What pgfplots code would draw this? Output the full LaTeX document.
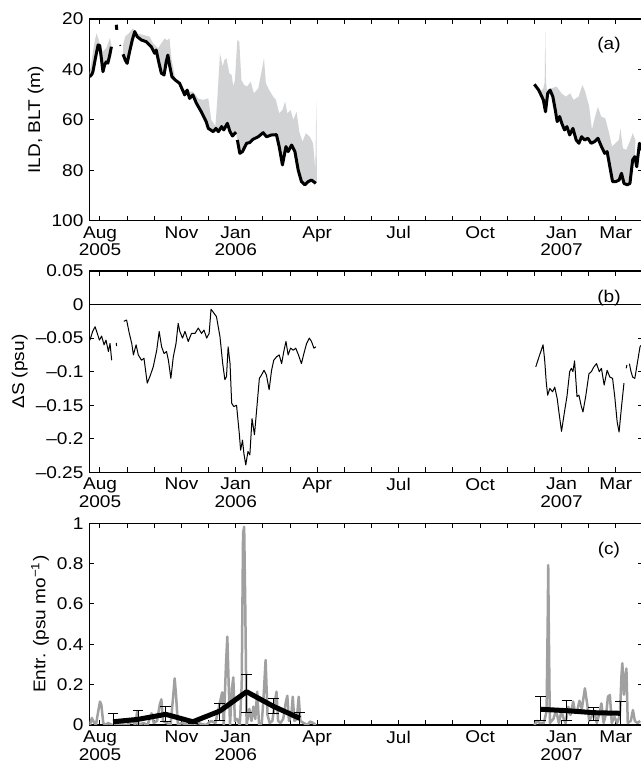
\documentclass[border=0pt]{standalone}
\usepackage{fontspec}
\setmainfont{Liberation Sans}[FakeStretch=1.12]
\usepackage{pgfplots}
\pgfplotsset{compat=1.18}
\definecolor{fillgray}{RGB}{210,211,213}
\definecolor{linegray}{RGB}{160,160,160}
\pgfplotsset{
  panel/.style={
    anchor=south west,
    width=332.2pt, height=121pt, scale only axis,
    xmin=-0.394, xmax=20,
    xtick={0,3,5,8,11,14,17,19},
    xticklabels={{Aug\\2005},Nov,{Jan\\2006},Apr,Jul,Oct,{Jan\\2007},Mar},
    minor xtick={1,2,4,6,7,9,10,12,13,15,16,18,20},
    major tick length=3pt, minor tick length=3pt,
    tick style={black, line width=0.6pt},
    axis line style={line width=0.8pt},
    tick label style={font=\fontsize{10.2}{10.6}\selectfont},
    label style={font=\fontsize{10.2}{10.6}\selectfont},
    ylabel style={yshift=-2pt},
    xticklabel style={align=center},
    /pgf/number format/assume math mode=true,
    clip=true,
  }
}
\begin{document}
\begin{tikzpicture}
\useasboundingbox (0,0) rectangle (384pt,460.2pt);
% ---------------- (a)
\begin{axis}[panel, at={(53.58pt,327.8pt)},
  ymin=20, ymax=100, y dir=reverse,
  ytick={20,40,60,80,100},
  ylabel={ILD, BLT (m)}]
\addplot[fill=fillgray, draw=none] coordinates {
(-0.38,41.5)(-0.22,30.3)(-0.13,25.7)(-0.05,28)(0.02,31)(0.1,33)(0.23,31.6)(0.36,27.7)(0.42,30)
(0.42,31)(0.36,34.3)(0.29,37.5)(0.23,37)(0.17,38.2)(0.11,40.9)(0.05,35.6)(-0.01,30.5)(-0.07,30.3)(-0.17,35.6)(-0.26,40.9)(-0.3,42)(-0.38,42.9)} -- cycle;
\addplot[fill=fillgray, draw=none] coordinates {
(0.85,30.3)(0.93,27)(1.06,25.7)(1.21,23.7)(1.34,25.7)(1.58,26.3)(1.83,27)(1.95,29.6)(2.14,31.6)(2.38,27.7)(2.47,28.5)(2.56,27.7)(2.63,35.6)(2.77,43.5)(3.0,47.5)(3.24,48.8)(3.42,48.8)(3.61,51.5)(3.79,52.1)(3.99,51.5)(4.1,60)(4.25,62.5)(4.32,52.1)(4.42,33.6)(4.52,38.9)(4.58,36.3)(4.66,35.6)(4.76,41.5)(4.85,42.2)(4.91,46.8)(4.97,44.2)(5.06,28.3)(5.13,29)(5.21,44.2)(5.31,46.2)(5.42,46.8)(5.55,44.9)(5.67,49.5)(5.83,47.5)(5.95,40.9)(6.04,35.6)(6.11,45.5)(6.23,48.2)(6.38,50.8)(6.48,52.1)(6.6,57.4)(6.72,56.1)(6.82,52.8)(6.9,57.4)(7.02,56.1)(7.12,60)(7.24,56.8)(7.34,64.7)(7.46,68.7)(7.58,65.3)(7.73,66.7)(7.85,69.3)(7.93,79.9)(7.97,52.1)(7.99,85.2)
(7.95,85.2)(7.79,83.9)(7.67,84.5)(7.55,85.8)(7.42,84.5)(7.3,79.9)(7.18,72.6)(7.06,70)(6.93,72.6)(6.85,70.6)(6.72,77.9)(6.6,70.6)(6.5,65.9)(6.32,66)(6.13,66.7)(6.01,65.1)(5.83,66.7)(5.64,67.7)(5.52,69)(5.4,69.3)(5.25,72.6)(5.15,73.3)(5.06,68)
(5.01,64.9)(4.88,66.4)(4.79,64.7)(4.69,61.4)(4.56,64)(4.48,62.7)(4.36,64.7)(4.27,63.4)(4.17,64.7)(3.99,63.4)(3.91,60.7)(3.73,56.8)(3.55,53.4)(3.42,50.1)(3.3,51.5)(3.21,48.2)(3.12,50.1)(2.93,45.5)(2.77,44.2)(2.65,42.9)(2.56,38.2)(2.5,34.3)(2.44,36.9)(2.36,42.2)(2.26,41.5)(2.16,36.9)(2.07,32.3)(2.01,33.6)(1.89,31)(1.7,29)(1.52,28.3)(1.37,27)(1.28,25)(1.19,28.3)(1.09,33)(1.0,37.6)(0.93,36.3)(0.85,34)} -- cycle;
\addplot[fill=fillgray, draw=none] coordinates {
(16.2,49)(16.33,47.5)(16.38,45)(16.4,25)(16.43,45)(16.46,48.2)(16.63,47.5)(16.82,46.8)(17.0,49.5)(17.16,50.8)(17.32,49.5)(17.44,52.1)(17.63,50.8)(17.77,46.2)(17.87,48.8)(18.02,54.8)(18.12,64)(18.22,59.4)(18.34,54.8)(18.46,58.7)(18.61,59.4)(18.74,64.7)(18.86,70.6)(18.98,69.3)(19.11,68)(19.17,63.4)(19.26,71.3)(19.38,71.9)(19.54,68)(19.62,65.3)(19.72,68)
(19.7,74.6)(19.62,75.9)(19.52,85.2)(19.42,85.8)(19.3,85.2)(19.21,81.2)(19.12,83.9)(19.0,84.5)(18.88,84.5)(18.78,78.6)(18.68,72.6)(18.59,73.3)(18.47,70.6)(18.34,67.3)(18.22,68.6)(18.09,69.3)(17.97,67.3)(17.85,68)(17.74,66.7)(17.64,69.3)(17.54,68)(17.42,63.4)(17.3,66)(17.2,62.7)(17.11,64)(17.01,61.4)(16.93,58.7)(16.84,60.7)(16.77,56.1)(16.68,50.8)(16.58,48.2)(16.49,49.5)(16.41,56.8)(16.33,52.1)(16.2,49)} -- cycle;
\addplot[black, line width=1.8pt, line join=round] coordinates {
(-0.38,42.9)(-0.3,42)(-0.26,40.9)(-0.17,35.6)(-0.07,30.3)(-0.01,30.5)(0.05,35.6)(0.11,40.9)(0.17,38.2)(0.23,37)(0.29,37.5)(0.36,34.3)(0.42,31)};
\addplot[black, line width=1.8pt] coordinates {(0.6,22.3)(0.62,24.3)};
\addplot[black, line width=1pt] coordinates {(0.74,30.3)(0.75,30.7)};
\addplot[black, line width=1.8pt, line join=round] coordinates {
(0.85,34)(0.93,36.3)(1.0,37.6)(1.09,33)(1.19,28.3)(1.28,25)(1.37,27)(1.52,28.3)(1.7,29)(1.89,31)(2.01,33.6)(2.07,32.3)(2.16,36.9)(2.26,41.5)(2.36,42.2)(2.44,36.9)(2.5,34.3)(2.56,38.2)(2.65,42.9)(2.77,44.2)(2.93,45.5)(3.12,50.1)(3.21,48.2)(3.3,51.5)(3.42,50.1)(3.55,53.4)(3.73,56.8)(3.91,60.7)(3.99,63.4)(4.17,64.7)(4.27,63.4)(4.36,64.7)(4.48,62.7)(4.56,64)(4.69,61.4)(4.79,64.7)(4.88,66.4)(5.01,64.9)};
\addplot[black, line width=1.8pt, line join=round] coordinates {
(5.06,68)(5.15,73.3)(5.25,72.6)(5.4,69.3)(5.52,69)(5.64,67.7)(5.83,66.7)(6.01,65.1)(6.13,66.7)(6.32,66)(6.5,65.9)(6.6,70.6)(6.72,77.9)(6.85,70.6)(6.93,72.6)(7.06,70)(7.18,72.6)(7.3,79.9)(7.42,84.5)(7.55,85.8)(7.67,84.5)(7.79,83.9)(7.95,85.2)};
\addplot[black, line width=1.8pt, line join=round] coordinates {
(16.0,45.9)(16.16,48.2)(16.33,52.1)(16.41,56.8)(16.49,49.5)(16.58,48.2)(16.68,50.8)(16.77,56.1)(16.84,60.7)(16.93,58.7)(17.01,61.4)(17.11,64)(17.2,62.7)(17.3,66)(17.42,63.4)(17.54,68)(17.64,69.3)(17.74,66.7)(17.85,68)(17.97,67.3)(18.09,69.3)(18.22,68.6)(18.34,67.3)(18.47,70.6)(18.59,73.3)(18.68,72.6)(18.78,78.6)(18.88,84.5)(19.0,84.5)(19.12,83.9)(19.21,81.2)(19.3,85.2)(19.42,85.8)(19.52,85.2)(19.62,75.9)(19.7,74.6)(19.77,78.6)(19.87,69.3)(19.95,72)};
\node[font=\fontsize{10.2}{10.6}\selectfont] at (rel axis cs:0.9386,0.871) {(a)};
\end{axis}
% ---------------- (b)
\begin{axis}[panel, at={(53.58pt,176.8pt)}, height=120.8pt,
  ymin=-0.25, ymax=0.05,
  ytick={-0.25,-0.2,-0.15,-0.1,-0.05,0,0.05},
  yticklabels={–0.25,–0.2,–0.15,–0.1,–0.05,0,0.05},
  ylabel={ΔS (psu)}]
\addplot[black, line width=0.5pt] coordinates {(-0.394,0)(20,0)};
\addplot[black, line width=0.6pt, line join=round] coordinates {
(-0.37,-0.053)(-0.27,-0.040)(-0.18,-0.033)(-0.1,-0.043)(-0.02,-0.053)(0.06,-0.047)(0.15,-0.060)(0.22,-0.053)(0.31,-0.070)(0.37,-0.058)(0.43,-0.083)};
\addplot[black, line width=0.6pt] coordinates {(0.6,-0.057)(0.61,-0.062)};
\addplot[black, line width=0.6pt, line join=round] coordinates {
(0.88,-0.025)(0.98,-0.023)(1.08,-0.043)(1.17,-0.058)(1.23,-0.075)(1.33,-0.060)(1.41,-0.075)(1.53,-0.083)(1.62,-0.080)(1.74,-0.117)(1.84,-0.107)(1.96,-0.093)(2.09,-0.068)(2.18,-0.040)(2.27,-0.063)(2.36,-0.073)(2.45,-0.070)(2.52,-0.083)(2.61,-0.110)(2.7,-0.078)(2.8,-0.058)(2.88,-0.028)(2.94,-0.040)(3.04,-0.050)(3.13,-0.040)(3.25,-0.055)(3.37,-0.043)(3.5,-0.043)(3.62,-0.035)(3.74,-0.043)(3.83,-0.038)(3.93,-0.050)(4.02,-0.043)(4.09,-0.007)(4.2,-0.013)(4.29,-0.018)(4.42,-0.048)(4.52,-0.088)(4.6,-0.112)(4.66,-0.107)(4.72,-0.063)(4.79,-0.088)(4.85,-0.147)(4.93,-0.152)(5.03,-0.150)(5.13,-0.192)(5.18,-0.217)(5.25,-0.202)(5.3,-0.222)(5.37,-0.239)(5.45,-0.219)(5.52,-0.224)(5.6,-0.170)(5.69,-0.194)(5.77,-0.157)(5.87,-0.110)(5.95,-0.105)(6.04,-0.098)(6.13,-0.105)(6.23,-0.127)(6.32,-0.098)(6.4,-0.083)(6.5,-0.078)(6.6,-0.075)(6.69,-0.088)(6.77,-0.070)(6.85,-0.055)(6.93,-0.075)(7.02,-0.065)(7.12,-0.068)(7.21,-0.065)(7.31,-0.075)(7.42,-0.088)(7.51,-0.073)(7.61,-0.058)(7.71,-0.050)(7.79,-0.055)(7.88,-0.065)(7.95,-0.063)};
\addplot[black, line width=0.6pt, line join=round] coordinates {
(16.05,-0.093)(16.17,-0.078)(16.32,-0.060)(16.38,-0.083)(16.44,-0.117)(16.49,-0.135)(16.57,-0.125)(16.67,-0.130)(16.75,-0.123)(16.84,-0.140)(16.91,-0.162)(17.0,-0.189)(17.12,-0.157)(17.2,-0.137)(17.3,-0.100)(17.36,-0.095)(17.42,-0.100)(17.48,-0.084)(17.57,-0.137)(17.64,-0.135)(17.73,-0.152)(17.79,-0.160)(17.89,-0.137)(18.01,-0.103)(18.1,-0.100)(18.19,-0.093)(18.29,-0.088)(18.39,-0.100)(18.47,-0.095)(18.57,-0.120)(18.68,-0.098)(18.78,-0.108)(18.88,-0.110)(18.96,-0.137)(19.05,-0.175)(19.12,-0.190)(19.21,-0.152)(19.3,-0.117)};
\addplot[black, line width=0.6pt] coordinates {(19.38,-0.095)(19.41,-0.090)};
\addplot[black, line width=0.6pt, line join=round] coordinates {
(19.5,-0.088)(19.56,-0.100)(19.62,-0.108)(19.7,-0.110)(19.79,-0.088)(19.89,-0.063)(19.95,-0.06)};
\node[font=\fontsize{10.2}{10.6}\selectfont] at (rel axis cs:0.9386,0.867) {(b)};
\end{axis}
% ---------------- (c)
\begin{axis}[panel, at={(53.58pt,25.2pt)},
  ymin=0, ymax=1,
  ytick={0,0.2,0.4,0.6,0.8,1},
  yticklabels={0,0.2,0.4,0.6,0.8,1},
  ylabel={Entr. (psu mo\textsuperscript{−1})}]
\addplot[linegray, line width=1.5pt, line join=round] coordinates {
(-0.37,0)(-0.3,0.035)(-0.25,0.02)(-0.15,0)(-0.05,0.08)(0.0,0.116)(0.05,0.1)(0.12,0.01)(0.2,0)(0.3,0.01)(0.45,0)(0.7,0.005)(1.0,0)(1.2,0.02)(1.3,0)(1.37,0.066)(1.42,0)(1.6,0.01)(1.75,0)(1.9,0.058)(1.98,0.01)(2.1,0.02)(2.2,0.1)(2.26,0.127)(2.32,0.02)(2.45,0.01)(2.6,0)(2.7,0.15)(2.75,0.231)(2.8,0.15)(2.87,0)(3.0,0.01)(3.3,0)(3.6,0.01)(3.9,0)(4.1,0.02)(4.25,0.01)(4.4,0.1)(4.5,0.162)(4.56,0)(4.64,0.3)(4.69,0.438)(4.74,0.2)(4.79,0)(4.86,0.18)(4.91,0.236)(4.97,0.02)(5.05,0.03)(5.15,0.0)(5.22,0.2)(5.27,0.95)(5.31,0.983)(5.35,0.6)(5.4,0)(5.5,0.08)(5.58,0.02)(5.65,0.091)(5.72,0.03)(5.79,0.165)(5.86,0.0)(5.96,0.01)(6.03,0.15)(6.1,0.322)(6.17,0.05)(6.25,0.01)(6.35,0.02)(6.45,0.12)(6.5,0.165)(6.56,0.02)(6.65,0.01)(6.75,0.03)(6.84,0.11)(6.9,0.145)(6.96,0.02)(7.05,0.05)(7.1,0.14)(7.16,0.02)(7.25,0.03)(7.32,0.14)(7.38,0.02)(7.5,0.01)(7.65,0.0)(7.73,0.017)(7.85,0.01)(7.95,0.0)};
\addplot[linegray, line width=1.5pt, line join=round] coordinates {
(16.0,0)(16.1,0.02)(16.2,0.01)(16.35,0.01)(16.45,0.07)(16.49,0.5)(16.51,0.793)(16.53,0.5)(16.57,0.01)(16.7,0.03)(16.8,0.074)(16.9,0.01)(17.0,0.07)(17.08,0.03)(17.15,0.01)(17.25,0.09)(17.33,0.05)(17.43,0.116)(17.5,0.06)(17.58,0.07)(17.66,0.12)(17.75,0.08)(17.86,0.182)(17.95,0.1)(18.02,0.02)(18.1,0.04)(18.2,0.07)(18.3,0.01)(18.4,0.06)(18.47,0.107)(18.55,0.01)(18.65,0.06)(18.71,0.14)(18.78,0.149)(18.85,0.01)(18.95,0.04)(19.05,0.01)(19.15,0.05)(19.21,0.25)(19.24,0.306)(19.3,0.15)(19.36,0.25)(19.39,0.28)(19.44,0.01)(19.55,0.02)(19.63,0.074)(19.7,0.02)(19.8,0.01)(19.9,0.02)};
\addplot[black, line width=3pt, line join=round,
  error bars/.cd, y dir=both, y explicit,
  error bar style={line width=0.6pt},
  error mark options={rotate=90, mark size=3.2pt, line width=0.6pt}]
 coordinates {
(0.48,0.016) += (0,0.042) -= (0,0.03)
(1.4,0.028) += (0,0.046) -= (0,0.03)
(2.42,0.053) += (0,0.041) -= (0,0.037)
(3.42,0.016) += (0,0.008) -= (0,0.008)
(4.41,0.069) += (0,0.039) -= (0,0.048)
(5.4,0.165) += (0,0.086) -= (0,0.102)
(6.38,0.093) += (0,0.036) -= (0,0.038)
(7.36,0.033) += (0,0.028) -= (0,0.04)};
\addplot[black, line width=3pt, line join=round,
  error bars/.cd, y dir=both, y explicit,
  error bar style={line width=0.6pt},
  error mark options={rotate=90, mark size=3.2pt, line width=0.6pt}]
 coordinates {
(16.23,0.078) += (0,0.062) -= (0,0.057)
(17.2,0.071) += (0,0.048) -= (0,0.05)
(18.19,0.061) += (0,0.027) -= (0,0.04)
(19.17,0.058) += (0,0.058) -= (0,0.06)};
\node[font=\fontsize{10.2}{10.6}\selectfont] at (rel axis cs:0.9386,0.868) {(c)};
\end{axis}
\end{tikzpicture}
\end{document}
